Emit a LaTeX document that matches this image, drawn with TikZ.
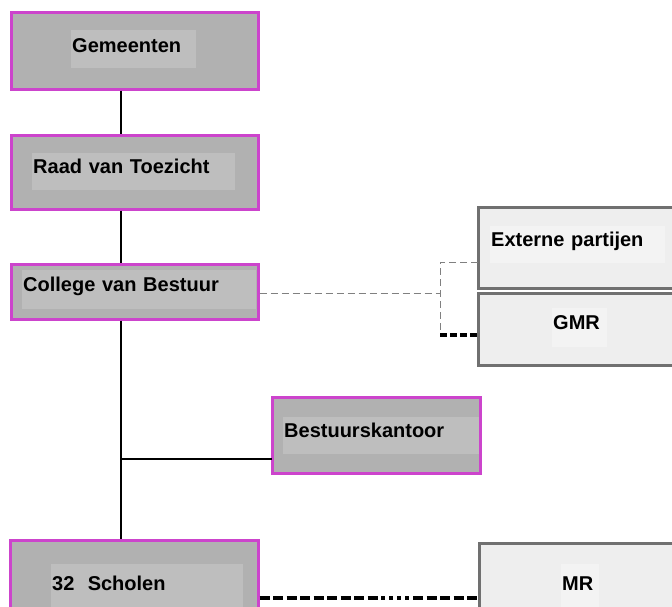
\documentclass[tikz,border=0pt]{standalone}
\usepackage{fontspec}
\setmainfont{Liberation Sans}
\usetikzlibrary{positioning}

\definecolor{orgmagenta}{HTML}{CC44CC}
\definecolor{orggray}{HTML}{B1B1B1}
\definecolor{lblgray}{HTML}{BEBEBE}
\definecolor{extline}{HTML}{707070}
\definecolor{extfill}{HTML}{EEEEEE}
\definecolor{extlblfill}{HTML}{F3F3F3}
\definecolor{linkgray}{HTML}{808080}

\begin{document}
\begin{tikzpicture}[x=1pt,y=-1pt,
    orgbox/.style={draw=orgmagenta,line width=3pt,fill=orggray,inner sep=0pt},
    extbox/.style={draw=extline,line width=3pt,fill=extfill,inner sep=0pt},
    lbl/.style={fill=lblgray,anchor=base west,inner xsep=1pt,inner ysep=0pt,align=left,
      font=\fontsize{20}{24}\selectfont\bfseries},
    extlbl/.style={lbl,fill=extlblfill},
    spine/.style={line width=2.5pt},
    softlink/.style={draw=linkgray,line width=1pt,dash pattern=on 7pt off 4pt},
    hardlink/.style={line width=3.5pt,dash pattern=on 7pt off 3pt},
    mrlink/.style={line width=4pt,dash pattern=on 10pt off 3.5pt on 10pt off 3.5pt on 10pt off 3.5pt
      on 10pt off 3.5pt on 10pt off 3.5pt on 10pt off 3.5pt on 10pt off 3.5pt on 10pt off 3.5pt
      on 10pt off 3.5pt on 4pt off 4pt on 4pt off 4pt on 4pt off 4pt on 4pt off 4pt
      on 10pt off 3.5pt on 10pt off 3.5pt on 10pt off 3.5pt on 10pt off 3.5pt on 10pt off 3.5pt
      on 10pt off 3.5pt}]

  % page size, cut off what runs over the edge
  \useasboundingbox (0,0) rectangle (672,606);
  \clip (0,0) rectangle (672,606);

  % own organisation, magenta boxes
  \node[orgbox,minimum width=247pt,minimum height=77pt] (gem) at (134.5,50.5) {};
  \node[orgbox,minimum width=247pt,minimum height=74pt] (rvt) at (134.5,172) {};
  \node[orgbox,minimum width=247pt,minimum height=55pt] (cvb) at (134.5,291.5) {};
  \node[orgbox,minimum width=208pt,minimum height=76pt] (bk) at (376,435) {};
  \node[orgbox,minimum width=248pt,minimum height=100pt] (sch) at (134,590) {};

  % councils and outside parties, grey boxes
  \node[extbox,minimum width=222pt,minimum height=81pt] (ext) at (589,247.5) {};
  \node[extbox,minimum width=222pt,minimum height=72pt] (gmr) at (589,329) {};
  \node[extbox,minimum width=221pt,minimum height=97pt] (mr) at (589.5,591.5) {};

  % labels
  \node[lbl,text width=123pt,text height=22pt,text depth=16pt] (gemtxt) at (71,52) {Gemeenten};
  \node[lbl,text width=201pt,text height=20pt,text depth=17pt] (rvttxt) at (32,173) {Raad van Toezicht};
  \node[lbl,text width=232pt,text height=21pt,text depth=18pt] (cvbtxt) at (22,291) {College van Bestuur};
  \node[lbl,text width=194pt,text height=20pt,text depth=17pt] (bktxt) at (283,437) {Bestuurskantoor};
  \node[lbl,text width=190pt,text height=26pt,text depth=23pt] (schtxt) at (51,590) {32~~Scholen};
  \node[extlbl,text width=173pt,text height=20pt,text depth=17pt] (exttxt) at (490,246) {Externe partijen};
  \node[extlbl,text width=53pt,text height=21pt,text depth=18pt] (gmrtxt) at (552,329) {GMR};
  \node[extlbl,text width=36pt,text height=26pt,text depth=23pt] (mrtxt) at (561,590) {MR};

  % line of command
  \coordinate (spine) at (121,0);
  \draw[spine] (gem.south -| spine) -- (rvt.north -| spine);
  \draw[spine] (rvt.south -| spine) -- (cvb.north -| spine);
  \draw[spine] (cvb.south -| spine) -- (sch.north -| spine);
  \coordinate (bkin) at (272,459);
  \draw[line width=2pt] (spine |- bkin) -- (bkin);

  % consultation
  \coordinate (split) at (440,293);
  \coordinate (extin) at (478,262);
  \coordinate (gmrin) at (478,335);
  \draw[softlink] (cvb.east |- split) -- (split);
  \draw[softlink] (extin) -| (split |- gmrin);
  \draw[hardlink] (split |- gmrin) -- (gmrin);
  \coordinate (mrin) at (479,598);
  \draw[mrlink] (sch.east |- mrin) -- (mrin);
\end{tikzpicture}
\end{document}
